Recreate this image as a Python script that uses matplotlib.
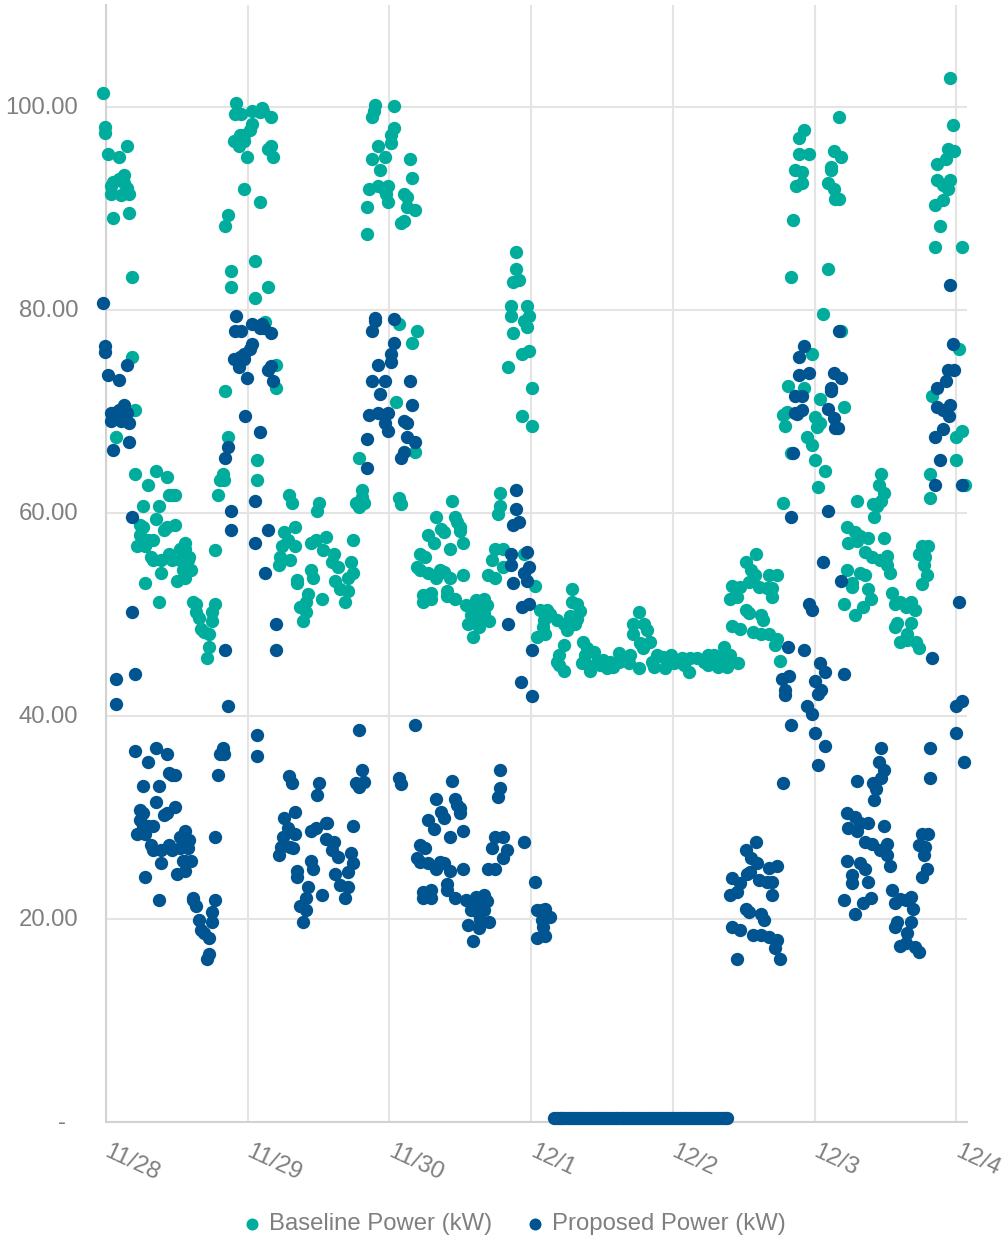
#!/usr/bin/env python3

"""plot.py: baseline vs proposed power scatter, one week of readings"""

import matplotlib

matplotlib.use("Agg")
import matplotlib.pyplot as plt
from matplotlib.transforms import ScaledTranslation

# (hours since 11/28 00:00, kW)
baseline_points = [
    (-0.56, 101.4), (-0.11, 98.1), (-0.11, 97.5), (3.5, 96.2), (0.34, 95.4), (2.15, 95.15),
    (3.05, 93.3), (2.15, 92.9), (1.24, 92.6), (0.79, 92.25), (3.05, 92.5), (3.5, 92.1),
    (2.6, 91.4), (0.79, 91.5), (3.95, 91.5), (3.95, 89.6), (1.24, 89.1), (4.4, 83.3),
    (4.4, 75.4), (4.85, 70.2), (1.69, 67.5), (20.7, 67.5), (19.8, 63.9), (19.3, 63.3),
    (19.9, 63.3), (18.9, 61.75), (4.85, 63.85), (8.47, 64.1), (10.28, 63.6), (7.1, 62.8),
    (10.73, 61.75), (11.2, 61.75), (11.63, 61.75), (6.2, 60.7), (8.9, 60.7), (8.47, 59.4),
    (11.63, 58.85), (10.28, 58.6), (9.83, 58.35), (5.76, 58.85), (6.2, 58.6), (5.76, 57.8),
    (8.0, 57.3), (7.1, 57.3), (6.2, 57.3), (5.3, 56.75), (6.66, 56.75), (7.57, 55.7),
    (8.0, 55.4), (9.37, 55.4), (10.73, 56.0), (11.2, 55.4), (12.5, 55.4), (13.44, 57.0),
    (12.5, 56.5), (13.44, 56.5), (14.1, 55.7), (13.9, 55.4), (13.0, 54.4), (14.34, 54.4),
    (13.44, 54.4), (9.37, 54.1), (12.1, 53.3), (13.44, 53.6), (6.66, 53.1), (8.92, 51.2),
    (14.8, 51.2), (15.25, 51.0), (18.4, 51.0), (17.96, 50.2), (15.25, 50.2), (15.7, 49.65),
    (17.96, 49.4), (16.15, 48.6), (16.6, 48.3), (17.5, 48.1), (17.5, 46.75), (17.05, 45.7),
    (18.4, 56.4),
    # 11/29
    (22.0, 100.4), (21.8, 99.35), (22.9, 99.35), (24.7, 99.6), (26.1, 99.5), (24.7, 98.4),
    (24.3, 97.8), (23.4, 97.25), (22.7, 97.25), (21.6, 96.7), (23.4, 96.7), (22.5, 96.2),
    (23.8, 95.15), (23.4, 92.0), (26.1, 90.7), (20.7, 89.4), (20.2, 88.3), (25.2, 84.9),
    (21.1, 83.85), (21.1, 82.25), (25.2, 81.2), (20.2, 72.0), (26.5, 99.9), (26.65, 99.6),
    (27.9, 99.1), (27.9, 96.2), (27.4, 95.9), (28.35, 95.15), (27.4, 82.3), (27.0, 78.85),
    (28.8, 74.6), (28.8, 72.3), (25.6, 65.2), (25.6, 63.3), (31.0, 61.75), (31.5, 61.0),
    (36.0, 61.0), (35.8, 60.2), (32.0, 58.6), (30.15, 58.1), (30.9, 57.35), (32.0, 56.75),
    (29.8, 56.75), (29.5, 55.7), (31.2, 55.4), (29.25, 54.9), (34.7, 57.0), (35.6, 57.3),
    (37.2, 57.6), (36.8, 56.4), (38.6, 56.0), (38.3, 55.2), (39.3, 54.65), (41.9, 57.3),
    (41.45, 55.2), (41.9, 54.1), (41.0, 53.6), (38.7, 53.3), (39.6, 52.5), (41.0, 52.3),
    (40.5, 51.2), (34.7, 54.4), (35.1, 53.6), (32.4, 53.4), (32.4, 53.1), (34.2, 52.0),
    (36.5, 51.5), (33.8, 51.2), (32.9, 50.7), (33.8, 50.2), (33.3, 49.4), (42.8, 65.4),
    (43.3, 62.3), (43.3, 61.6), (42.4, 61.0), (43.7, 61.0), (42.8, 60.6),
    # 11/30
    (45.5, 100.2), (48.7, 100.15), (45.3, 99.6), (45.1, 99.1), (48.7, 98.0), (48.2, 97.25),
    (48.2, 96.5), (46.0, 96.2), (45.1, 94.9), (47.3, 95.15), (46.4, 93.8), (51.4, 94.9),
    (51.8, 93.0), (44.6, 92.0), (46.0, 92.25), (47.8, 92.25), (47.0, 92.0), (47.4, 91.5),
    (50.5, 91.5), (50.9, 91.2), (44.2, 90.15), (47.8, 90.7), (50.9, 90.15), (52.3, 89.9),
    (50.5, 88.8), (50.0, 88.6), (44.2, 87.5), (49.6, 78.6), (52.7, 78.0), (51.8, 76.75),
    (49.1, 71.0), (52.3, 66.0), (49.6, 61.5), (50.0, 60.9), (58.6, 61.2), (55.9, 59.65),
    (59.1, 59.65), (59.5, 59.15), (60.0, 58.65), (59.9, 58.25), (56.8, 58.4), (57.3, 58.1),
    (54.6, 57.8), (55.5, 57.0), (60.4, 57.0), (58.2, 56.5), (53.2, 56.0), (54.1, 55.7),
    (52.6, 54.7), (53.2, 54.4), (54.6, 54.1), (55.9, 53.6), (56.6, 54.4), (57.3, 54.2),
    (58.2, 53.6), (60.4, 53.9), (57.7, 52.3), (57.7, 51.8), (55.0, 52.1), (53.6, 51.9),
    (53.6, 51.2), (55.0, 51.5), (59.1, 51.5), (60.9, 50.9), (61.8, 49.95), (62.7, 51.4),
    (62.7, 50.45), (64.0, 51.5), (64.5, 50.9), (64.0, 50.1), (63.1, 49.45), (61.3, 49.1),
    (63.1, 48.8), (62.2, 47.8), (64.9, 49.4), (63.4, 49.8), (66.7, 62.0), (66.7, 60.7),
    (66.3, 59.9), (65.8, 56.5), (67.2, 56.5), (65.4, 55.4), (67.2, 54.65), (70.7, 56.0),
    (64.7, 53.9), (65.8, 53.6), (69.5, 85.7), (69.5, 84.1), (69.0, 82.8), (69.9, 83.0),
    (68.6, 80.4), (71.3, 80.4), (68.6, 79.4), (71.7, 79.4), (70.8, 78.9), (71.3, 78.3),
    (69.0, 77.8), (70.4, 75.7), (71.7, 75.95), (68.1, 74.4), (72.2, 72.3), (70.4, 69.6),
    (72.2, 68.6),
    # 12/1
    (72.6, 52.8), (78.9, 52.5), (78.9, 51.2), (79.8, 51.0), (80.3, 50.3), (79.8, 49.6),
    (73.5, 50.4), (74.65, 50.4), (75.2, 50.0), (76.3, 49.5), (78.5, 49.8), (74.1, 49.5),
    (77.5, 49.1), (74.0, 48.8), (79.4, 49.1), (78.0, 48.5), (74.4, 48.1), (73.0, 47.8),
    (77.5, 47.0), (80.7, 47.3), (81.5, 46.65), (82.6, 46.3), (76.7, 46.0), (76.3, 45.3),
    (76.7, 45.0), (77.6, 44.4), (81.1, 46.0), (81.1, 45.2), (80.6, 45.2), (82.0, 44.4),
    (83.1, 45.35), (84.2, 45.5), (84.8, 44.7), (85.9, 44.85), (86.8, 46.2), (86.8, 45.35),
    (87.6, 45.5), (88.8, 46.0), (88.5, 45.2), (83.7, 45.0), (85.4, 45.35), (90.2, 44.7),
    (90.2, 50.2), (89.3, 49.1), (91.1, 49.1), (91.6, 48.5), (89.3, 48.1), (92.15, 47.3),
    (90.5, 47.2), (91.0, 46.7), (93.3, 46.0), (94.4, 45.8), (92.4, 45.35), (92.8, 44.85),
    (94.7, 44.7), (95.65, 46.0), (96.1, 45.2),
    # 12/2
    (97.5, 45.7), (97.8, 45.0), (98.8, 44.35), (98.9, 45.7), (100.06, 45.7), (101.2, 45.35),
    (102.0, 46.0), (102.9, 46.0), (102.0, 45.0), (103.7, 44.85), (104.7, 46.8), (105.1, 44.85),
    (105.7, 46.0), (104.0, 45.8), (107.0, 45.2), (110.0, 56.0), (108.3, 55.2), (109.2, 54.4),
    (109.9, 53.9), (112.3, 53.9), (113.7, 53.9), (108.8, 53.2), (107.4, 52.75), (106.0, 52.8),
    (106.8, 51.75), (105.6, 51.5), (110.5, 52.75), (111.9, 52.6), (112.8, 52.6), (112.8, 51.75),
    (108.3, 50.4), (108.8, 50.1), (111.0, 49.95), (111.3, 49.45), (106.0, 48.9), (107.4, 48.6),
    (109.6, 48.3), (111.0, 48.1), (112.3, 48.1), (113.7, 47.55), (113.25, 47.0), (114.15, 45.45),
    (114.6, 61.0), (118.7, 67.5), (119.6, 66.75), (120.0, 65.2), (121.8, 64.1), (120.5, 62.55),
    (116.0, 65.95), (114.7, 69.7), (115.3, 70.0), (115.0, 68.6), (120.1, 69.5), (120.9, 68.85),
    (120.4, 68.5), (125.0, 70.5), (118.2, 97.8), (117.3, 97.0), (117.3, 95.4), (119.1, 95.4),
    (116.75, 93.8), (117.8, 93.6), (117.8, 92.5), (116.9, 92.25), (116.4, 88.85), (116.0, 83.3),
    # 12/3
    (122.3, 84.1), (121.4, 79.6), (124.5, 78.0), (119.5, 75.7), (115.5, 72.5), (118.2, 72.3),
    (120.9, 71.2), (124.1, 99.1), (123.2, 95.7), (124.5, 95.15), (122.7, 94.1), (122.7, 93.8),
    (122.3, 92.5), (123.2, 92.0), (123.4, 91.0), (124.1, 91.0), (131.3, 63.85), (130.9, 62.8),
    (131.8, 62.0), (131.3, 61.2), (127.25, 61.2), (129.95, 60.9), (130.5, 60.7), (130.0, 59.65),
    (125.4, 58.6), (126.8, 58.1), (129.0, 57.55), (131.8, 57.55), (127.6, 57.7), (125.7, 57.0),
    (127.1, 57.2), (128.6, 56.2), (129.7, 55.7), (131.1, 55.4), (132.2, 55.8), (132.2, 54.9),
    (132.7, 54.05), (125.4, 54.4), (127.7, 54.1), (128.6, 53.85), (126.35, 53.1), (126.35, 52.7),
    (129.0, 52.55), (125.0, 51.0), (128.2, 50.7), (129.5, 51.5), (126.8, 49.9), (133.1, 52.1),
    (133.6, 51.0), (134.5, 51.25), (135.4, 50.7), (136.3, 51.25), (137.0, 50.4), (134.0, 49.2),
    (133.6, 48.8), (136.3, 49.2), (135.7, 48.1), (134.5, 47.3), (135.6, 47.5), (137.2, 47.3),
    (137.6, 46.65), (138.1, 56.75), (139.2, 56.8), (137.6, 56.0), (138.7, 55.7), (138.55, 54.9),
    (139.0, 53.85), (138.1, 53.05), (139.45, 63.85), (139.45, 61.5), (144.0, 65.2), (144.0, 67.5),
    (144.9, 68.1), (145.5, 62.8), (143.0, 102.95), (143.5, 98.3), (142.6, 95.9), (143.6, 95.7),
    (142.2, 94.9), (140.8, 94.4), (140.8, 92.8), (143.0, 92.8), (141.8, 92.35), (142.6, 92.0),
    (141.7, 90.9), (140.35, 90.4), (141.3, 88.3), (140.35, 86.2), (144.9, 86.2), (144.4, 76.2),
    (139.9, 71.5),
]

proposed_points = [
    (-0.56, 80.7), (-0.11, 76.5), (-0.11, 75.9), (3.5, 74.6), (0.34, 73.6), (2.15, 73.1),
    (3.05, 70.7), (2.15, 70.2), (1.24, 69.9), (0.79, 69.9), (3.5, 69.9), (0.79, 69.1),
    (2.6, 69.1), (3.95, 68.85), (3.95, 67.0), (1.24, 66.2), (4.4, 59.65), (4.4, 50.2),
    (4.85, 44.1), (1.69, 43.6), (1.69, 41.2), (20.7, 66.5), (20.2, 65.4), (21.1, 60.2),
    (21.1, 58.3), (20.2, 46.5), (20.7, 41.0), (4.85, 36.5), (8.47, 36.8), (10.28, 36.25),
    (7.1, 35.45), (19.76, 36.8), (19.3, 36.25), (19.9, 36.25), (18.9, 34.15), (10.73, 34.4),
    (11.2, 34.15), (11.63, 34.15), (6.2, 33.1), (8.92, 33.1), (8.47, 31.5), (11.63, 31.0),
    (10.28, 30.45), (9.83, 30.2), (5.76, 30.7), (6.2, 30.45), (5.76, 29.7), (8.0, 29.15),
    (7.1, 29.15), (5.3, 28.4), (6.66, 28.4), (6.2, 29.15), (7.57, 27.3), (8.0, 26.8),
    (9.37, 26.8), (10.73, 27.3), (11.2, 26.8), (12.5, 27.0), (13.9, 27.0), (13.44, 28.6),
    (12.5, 28.1), (14.0, 27.8), (13.0, 25.7), (14.34, 25.7), (13.44, 25.7), (9.37, 25.5),
    (12.1, 24.4), (13.44, 24.7), (6.66, 24.15), (18.4, 28.1), (8.92, 21.8), (14.8, 22.0),
    (14.8, 21.8), (15.25, 21.25), (18.4, 21.8), (17.96, 20.7), (15.7, 19.9), (17.96, 19.7),
    (16.15, 18.9), (16.6, 18.6), (17.5, 18.1), (17.5, 16.5), (17.05, 16.0),
    # 11/29
    (22.0, 79.4), (21.8, 78.0), (22.9, 78.0), (24.7, 78.6), (26.1, 78.2), (24.7, 76.7),
    (24.3, 76.15), (23.4, 75.7), (22.7, 75.4), (21.6, 75.15), (23.4, 75.15), (22.5, 74.4),
    (23.8, 73.3), (26.5, 78.6), (26.8, 78.2), (27.9, 77.8), (27.9, 74.5), (27.4, 74.1),
    (28.35, 73.05), (23.5, 69.6), (26.1, 68.0), (25.2, 61.2), (27.4, 58.3), (25.2, 57.0),
    (27.0, 54.1), (28.8, 49.1), (28.8, 46.5), (25.6, 38.1), (25.6, 36.0), (31.0, 34.1),
    (31.5, 33.35), (36.0, 33.35), (35.8, 32.2), (32.0, 30.5), (30.15, 29.9), (30.9, 28.9),
    (32.0, 28.35), (29.9, 28.1), (29.7, 27.1), (31.6, 27.0), (29.25, 26.25), (31.2, 27.1),
    (34.7, 28.6), (35.6, 28.9), (37.2, 29.4), (37.5, 29.4), (37.2, 27.9), (38.6, 27.6),
    (38.3, 26.8), (39.3, 26.1), (41.9, 29.1), (41.45, 26.5), (41.9, 25.5), (41.0, 24.65),
    (38.7, 24.4), (39.6, 23.3), (41.0, 23.1), (40.5, 22.0), (34.7, 25.7), (35.1, 24.9),
    (32.4, 24.7), (32.4, 24.15), (34.2, 23.1), (36.5, 22.3), (33.8, 22.0), (32.9, 21.25),
    (33.8, 20.9), (33.3, 19.7), (42.8, 38.6), (43.3, 34.7), (42.4, 33.35), (43.7, 33.5),
    (42.8, 33.0),
    # 11/30
    (45.5, 79.2), (45.5, 78.9), (45.1, 78.0), (48.7, 79.1), (48.7, 76.75), (48.2, 75.7),
    (48.2, 74.9), (46.0, 74.6), (45.1, 73.05), (47.3, 73.05), (51.4, 73.05), (46.4, 71.75),
    (51.8, 70.7), (44.6, 69.65), (46.0, 69.9), (47.8, 69.9), (47.0, 69.65), (47.3, 68.85),
    (47.8, 68.05), (50.5, 69.1), (50.9, 68.85), (44.2, 67.3), (50.9, 67.5), (52.3, 67.0),
    (50.5, 66.0), (50.0, 65.4), (44.2, 64.4), (49.6, 33.9), (50.0, 33.3), (52.3, 39.1),
    (58.6, 33.6), (55.9, 31.8), (59.1, 31.8), (59.5, 31.2), (60.0, 30.9), (59.9, 30.4),
    (56.8, 30.5), (57.3, 29.9), (54.6, 29.7), (55.5, 28.8), (60.4, 28.6), (58.2, 28.1),
    (53.2, 27.3), (54.1, 27.0), (52.6, 26.0), (53.2, 25.6), (54.6, 25.5), (55.9, 24.9),
    (56.6, 25.6), (57.3, 25.5), (58.2, 24.7), (60.4, 24.9), (57.7, 23.4), (57.7, 22.8),
    (55.0, 22.8), (53.6, 22.6), (53.6, 22.0), (55.0, 22.0), (59.1, 22.0), (60.9, 21.8),
    (61.8, 20.85), (62.7, 22.1), (62.7, 21.35), (64.0, 22.3), (64.5, 21.7), (64.0, 20.9),
    (63.1, 20.5), (61.3, 19.4), (63.1, 19.1), (62.2, 17.8), (64.9, 19.7), (63.4, 19.9),
    (66.7, 34.7), (66.7, 32.9), (66.3, 32.0), (65.8, 28.1), (67.2, 28.1), (65.4, 27.0),
    (67.9, 26.8), (67.2, 26.0), (64.7, 24.9), (65.8, 24.9), (70.8, 27.6), (69.5, 62.3),
    (69.5, 60.4), (69.0, 58.8), (70.0, 59.15), (68.6, 56.0), (68.6, 54.9), (71.3, 56.2),
    (71.7, 54.65), (70.8, 54.1), (71.3, 53.3), (69.0, 53.1), (70.4, 50.7), (71.7, 51.0),
    (68.1, 49.1), (72.2, 46.5), (70.35, 43.3), (72.2, 42.0),
    # 12/1
    (72.6, 23.6), (73.0, 20.9), (74.4, 21.0), (75.2, 20.2), (73.8, 20.85), (74.0, 19.2),
    (73.0, 18.1), (74.4, 18.3), (73.8, 19.9),
    # 12/2
    (110.0, 27.6), (108.3, 26.8), (109.2, 26.0), (110.2, 25.5), (112.3, 25.0), (113.7, 25.2),
    (109.1, 24.6), (108.5, 24.4), (106.0, 24.0), (107.4, 23.5), (106.8, 22.65), (105.6, 22.3),
    (110.5, 23.8), (111.9, 23.65), (112.8, 23.65), (112.8, 22.3), (108.3, 21.0), (108.8, 20.7),
    (111.0, 20.5), (111.4, 19.9), (106.0, 19.15), (107.4, 18.9), (109.6, 18.4), (111.0, 18.4),
    (112.3, 18.15), (113.7, 17.9), (113.25, 17.1), (106.9, 16.0), (114.15, 16.0), (114.6, 33.35),
    (115.5, 46.75), (118.2, 46.5), (114.4, 43.6), (115.6, 43.9), (115.06, 42.55), (115.06, 42.05),
    (116.0, 39.1), (116.4, 65.95), (116.0, 59.65), (118.2, 76.5), (117.3, 75.4), (117.3, 73.6),
    (119.1, 73.85), (116.75, 71.5), (117.8, 71.5), (117.8, 70.2), (116.7, 69.9), (117.0, 69.8),
    # 12/3
    (120.9, 45.2), (121.8, 44.35), (125.0, 44.15), (120.0, 43.4), (120.5, 42.2), (121.0, 42.55),
    (118.7, 41.0), (119.6, 40.2), (120.0, 38.35), (121.8, 37.0), (120.5, 35.2), (121.4, 55.2),
    (124.5, 53.3), (119.0, 51.0), (119.6, 50.4), (122.3, 60.2), (124.1, 78.0), (123.2, 73.85),
    (124.5, 73.3), (122.7, 72.3), (122.7, 72.0), (122.3, 70.3), (123.2, 69.4), (123.9, 68.35),
    (123.5, 68.35), (131.3, 36.8), (130.9, 35.45), (131.7, 34.7), (131.3, 33.85), (127.25, 33.6),
    (129.85, 33.35), (130.4, 32.8), (130.0, 31.75), (125.4, 30.45), (126.8, 30.0), (129.0, 29.4),
    (131.8, 29.15), (127.6, 29.4), (125.7, 28.9), (127.25, 28.6), (128.6, 27.6), (129.7, 27.35),
    (131.1, 26.8), (132.2, 27.35), (132.2, 26.3), (132.7, 25.2), (125.4, 25.7), (127.7, 25.5),
    (128.6, 24.9), (126.35, 24.3), (126.35, 23.55), (129.0, 23.6), (125.0, 21.8), (128.2, 21.5),
    (129.5, 22.0), (126.8, 20.5), (133.1, 22.8), (133.6, 21.5), (134.5, 21.9), (135.4, 21.85),
    (136.3, 22.1), (136.7, 21.0), (134.0, 19.7), (133.6, 19.15), (136.3, 19.7), (135.7, 18.55),
    (134.4, 17.3), (135.4, 17.6), (137.0, 17.2), (137.6, 16.7), (138.1, 28.35), (139.2, 28.35),
    (137.6, 27.25), (138.7, 27.1), (138.55, 26.25), (139.0, 24.9), (138.1, 24.1), (139.45, 36.8),
    (139.45, 33.9), (143.0, 82.5), (143.5, 76.7), (142.6, 74.1), (143.6, 74.1), (142.2, 73.05),
    (140.8, 72.3), (140.8, 70.5), (143.0, 70.7), (141.8, 70.2), (142.7, 69.6), (141.7, 68.3),
    (140.35, 67.5), (141.3, 65.2), (140.35, 62.8), (144.9, 62.8), (144.4, 51.2), (139.9, 45.7),
    (144.0, 41.0), (144.9, 41.5), (144.0, 38.35), (145.3, 35.45),
]

# the proposed system sits at about zero while the building is idle
idle_hours = [
    75.8, 76.3, 76.8, 77.3, 77.8, 78.3, 78.8, 79.3, 79.8, 80.3, 80.8, 81.3, 81.8, 82.3, 82.8,
    83.3, 83.8, 84.3, 84.8, 85.3, 85.8, 86.3, 86.8, 87.3, 87.8, 88.3, 88.8, 89.3, 89.8, 90.3,
    90.8, 91.3, 91.8, 92.3, 92.8, 93.3, 93.8, 94.3, 94.8, 95.3, 95.8, 96.3, 96.8, 97.3, 97.8,
    98.3, 98.8, 99.3, 99.8, 100.3, 100.8, 101.3, 101.8, 102.3, 102.8, 103.3, 103.8, 104.3,
    104.8, 105.1,
]
idle_kw = [0.3] * len(idle_hours)

day_ticks = [0, 24, 48, 72, 96, 120, 144]
day_labels = ["11/28", "11/29", "11/30", "12/1", "12/2", "12/3", "12/4"]
kw_ticks = [0, 20, 40, 60, 80, 100]
kw_labels = ["-", "20.00", "40.00", "60.00", "80.00", "100.00"]

TEAL = "#00AC9C"
NAVY = "#00548F"
GREY = "#7F7F7F"
FONT_SIZE = 17.2

plt.rcParams["font.family"] = ["Liberation Sans", "DejaVu Sans"]

W, H = 1005, 1238
fig = plt.figure(figsize=(W / 100, H / 100), dpi=100)
ax = fig.add_axes([106 / W, 1 - 1121.5 / H, (967 - 106) / W, (1121.5 - 5) / H])

ax.set_xlim(0, 145.8)
ax.set_ylim(0, 110.1)

ax.grid(True, color="#E4E4E4", linewidth=1.5, zorder=0)
ax.set_axisbelow(True)
for side in ["top", "right"]:
    ax.spines[side].set_visible(False)
for side in ["left", "bottom"]:
    ax.spines[side].set_color("#D2D2D2")
    ax.spines[side].set_linewidth(1.5)

size = 92
base_x, base_y = zip(*baseline_points)
prop_x, prop_y = zip(*proposed_points)
ax.scatter(base_x, base_y, s=size, color=TEAL, linewidths=0, clip_on=False, zorder=3,
           label="Baseline Power (kW)")
ax.scatter(prop_x, prop_y, s=size, color=NAVY, linewidths=0, clip_on=False, zorder=4,
           label="Proposed Power (kW)")
ax.scatter(idle_hours, idle_kw, s=size, color=NAVY, linewidths=0, clip_on=False, zorder=4)

ax.set_yticks(kw_ticks)
ax.set_yticklabels(kw_labels, fontsize=FONT_SIZE, color=GREY)
ax.set_xticks(day_ticks)
ax.set_xticklabels(day_labels, fontsize=FONT_SIZE, color=GREY, rotation=-25,
                   rotation_mode="anchor", ha="left", va="center")
ax.tick_params(axis="both", length=0)
ax.tick_params(axis="y", pad=20)
ax.tick_params(axis="x", pad=21)
ax.yaxis.get_major_ticks()[0].set_pad(29)

# y labels sit a touch above their gridlines
nudge = ScaledTranslation(0, 1.5 / 100, fig.dpi_scale_trans)
for label in ax.get_yticklabels():
    label.set_transform(label.get_transform() + nudge)

handles, labels = ax.get_legend_handles_labels()
fig.legend(handles, labels, loc="center", bbox_to_anchor=(513 / W, 1 - 1224 / H), ncol=2,
           frameon=False, fontsize=FONT_SIZE, labelcolor=GREY, markerscale=0.9, handlelength=1.0,
           handletextpad=0.2, columnspacing=1.3, borderpad=0)

fig.savefig("out.png", dpi=100)
